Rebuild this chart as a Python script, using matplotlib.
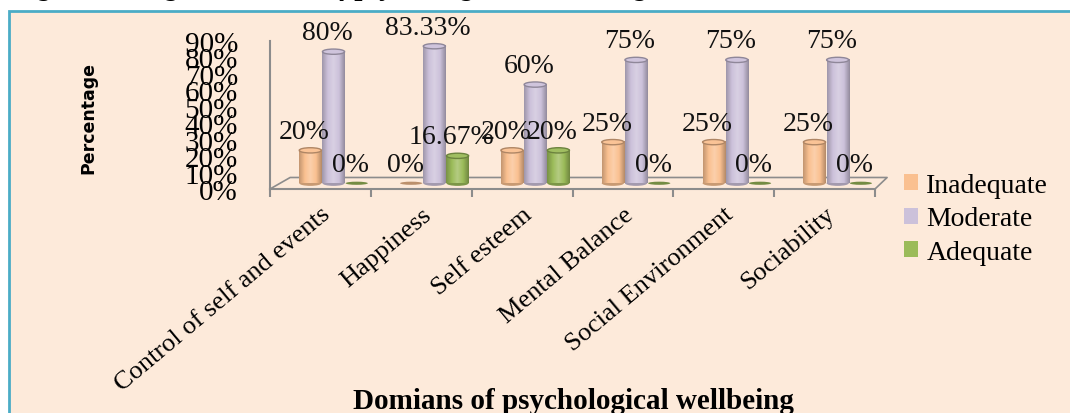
import numpy as np
import matplotlib
matplotlib.use("Agg")
import matplotlib.pyplot as plt
from matplotlib.patches import Ellipse, Rectangle, Patch
from matplotlib.colors import LinearSegmentedColormap, to_rgb

# DATA
categories = ['Control of self and events', 'Happiness', 'Self esteem',
              'Mental Balance', 'Social Environment', 'Sociability']
series_names = ['Inadequate', 'Moderate', 'Adequate']
inadequate = [20, 0, 20, 25, 25, 25]
moderate = [80, 83.33, 60, 75, 75, 75]
adequate = [0, 16.67, 20, 0, 0, 0]
yticks = [0, 10, 20, 30, 40, 50, 60, 70, 80, 90]

series = [inadequate, moderate, adequate]
colors = ['#FAC090', '#CCC1DA', '#9BBB59']
offsets = [0.40, 0.63, 0.86]
bar_w = 0.22
base = 3.5   # bars stand on the 3D floor, a bit above the front edge

serif = 'Liberation Serif'
bg = '#FDEADA'

fig = plt.figure(figsize=(10.7, 4.14), dpi=100)
fig.patch.set_facecolor('white')

# panel with blue border
panel = Rectangle((9 / 1070, -0.1), 1.2, 1 - 12 / 414 + 0.1, transform=fig.transFigure,
                  facecolor=bg, edgecolor='#4BACC6', linewidth=2, zorder=-10)
fig.patches.append(panel)

# cut-off caption at the top
fig.text(650 / 1070, 1 + 5 / 414, 'Table 5: showing according to the level of psychological well being',
         ha='right', va='baseline', family=serif, fontsize=21, fontweight='bold', style='italic')

ax = fig.add_axes([270 / 1070, 1 - 190 / 414, 605 / 1070, 148 / 414])
ax.set_facecolor('none')


def shade(c, f):
    r = np.array(to_rgb(c))
    if f < 1:
        return tuple(r * f)
    return tuple(r + (1 - r) * (f - 1))


def cylinder(xc, h, color):
    eh = 3.2
    cmap = LinearSegmentedColormap.from_list(
        'c', [shade(color, 0.78), shade(color, 1.0), shade(color, 1.25), shade(color, 1.0), shade(color, 0.72)])
    if h > 0:
        ax.add_patch(Ellipse((xc, base), bar_w, eh, facecolor=shade(color, 0.8), edgecolor='none', zorder=3))
        grad = np.linspace(0, 1, 64).reshape(1, -1)
        ax.imshow(grad, extent=[xc - bar_w / 2, xc + bar_w / 2, base, base + h], cmap=cmap,
                  aspect='auto', zorder=3.1, origin='lower')
        ax.add_patch(Ellipse((xc, base + h), bar_w, eh, facecolor=shade(color, 1.05),
                             edgecolor=shade(color, 0.7), linewidth=1, zorder=3.2))
    else:
        ax.add_patch(Ellipse((xc, base), bar_w, eh * 0.6, facecolor=shade(color, 0.75),
                             edgecolor='none', zorder=3))


for s, vals in enumerate(series):
    for i, v in enumerate(vals):
        xc = i + offsets[s]
        cylinder(xc, v, colors[s])
        ax.text(xc - 0.06, v + 15, f'{v:g}%', ha='center', va='center',
                family=serif, fontsize=20, color='#111111', zorder=5, clip_on=False)

ax.set_xlim(0, len(categories))
ax.set_ylim(0, 90)

# floor of the 3D look
gray = '#8C8C8C'
ax.plot([0, 0.2, len(categories) + 0.12, len(categories)], [0, 7, 7, 0],
        color=gray, linewidth=1.2, zorder=1, clip_on=False)

for side in ['top', 'right']:
    ax.spines[side].set_visible(False)
for side in ['left', 'bottom']:
    ax.spines[side].set_color(gray)
    ax.spines[side].set_linewidth(1.5)

ax.set_yticks(yticks)
ax.set_yticklabels([f'{t}%' for t in yticks], family=serif, fontsize=21)
ax.tick_params(axis='y', length=0, pad=23)

ax.set_xticks(range(len(categories) + 1))
ax.set_xticklabels([])
ax.tick_params(axis='x', which='major', length=6, color=gray, width=1.5)
ax.set_xticks(np.arange(len(categories)) + 0.5, minor=True)
ax.set_xticklabels(categories, minor=True, rotation=40, ha='right', rotation_mode='anchor',
                   family=serif, fontsize=19)
ax.tick_params(axis='x', which='minor', length=0, pad=10)

fig.text(88 / 1070, 1 - 118 / 414, 'Percentage', rotation=90, ha='center', va='center',
         family='DejaVu Sans', fontsize=12.5, fontweight='bold')
fig.text(573 / 1070, 1 - 402 / 414, 'Domians of psychological wellbeing', ha='center', va='center',
         family=serif, fontsize=21, fontweight='bold')

handles = [Patch(facecolor=c, edgecolor='none') for c in colors]
fig.legend(handles, series_names, loc='upper left', bbox_to_anchor=(893 / 1070, 1 - 163 / 414),
           frameon=False, prop={'family': serif, 'size': 20}, handlelength=0.5, handleheight=0.5,
           handletextpad=0.3, labelspacing=0.3, borderaxespad=0)

fig.savefig('out.png', dpi=100, facecolor=fig.get_facecolor())
